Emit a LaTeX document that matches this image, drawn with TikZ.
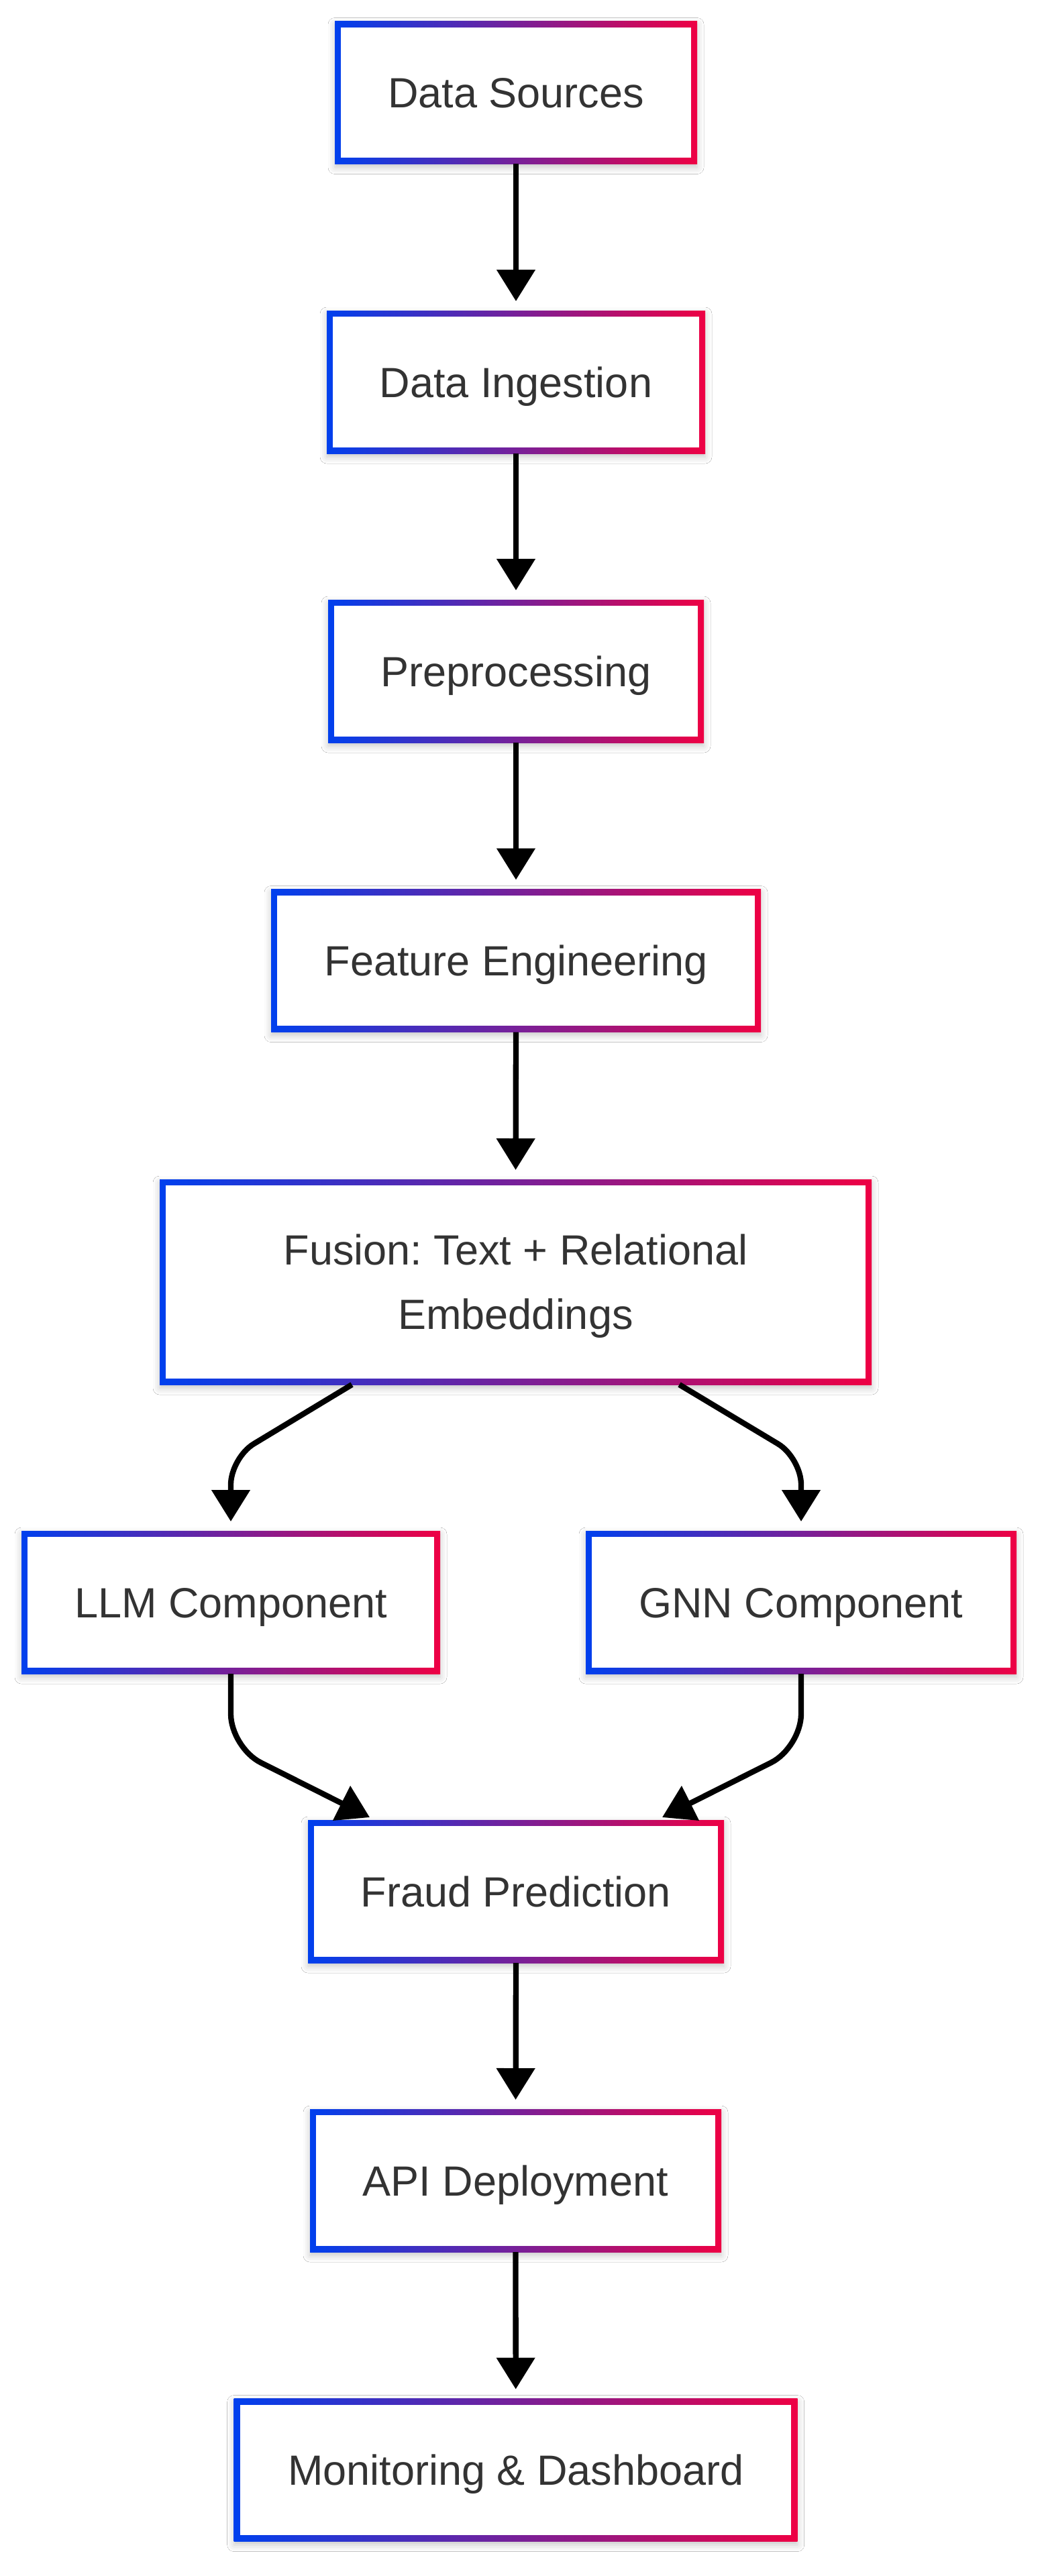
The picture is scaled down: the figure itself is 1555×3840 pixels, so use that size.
\documentclass[tikz,border=0pt]{standalone}
\usepackage{fontspec}
\setmainfont{Liberation Sans}
\usetikzlibrary{arrows.meta,calc,backgrounds,shadows.blur}
\definecolor{gblue}{HTML}{0040EE}
\definecolor{gred}{HTML}{EE0044}
\definecolor{txt}{HTML}{333333}
\frenchspacing
\begin{document}
\begin{tikzpicture}[x=1pt,y=-1pt,
  box/.style={inner sep=0pt, outer sep=0pt, align=center, text=txt,
    font=\fontsize{63}{96}\selectfont, minimum height=213pt,
    text height=45pt, text depth=0pt},
  link/.style={line width=8.3pt, -{Triangle[length=47pt,width=56pt]}, shorten >=14pt},
  curvelink/.style={line width=8.3pt, -{Triangle[length=47pt,width=56pt]}},
]
\useasboundingbox (0,0) rectangle (1555,3840);

% nodes
\node[box, minimum width=540pt] (ds)  at (769,138)    {Data Sources};
\node[box, minimum width=564pt] (di)  at (769,569.5)  {Data Ingestion};
\node[box, minimum width=560pt] (pp)  at (769,1000.5) {Preprocessing};
\node[box, minimum width=730pt] (fe)  at (769,1432)   {Feature Engineering};
\node[box, minimum width=1061pt, minimum height=306pt, text height=141pt, text depth=0pt] (fu) at (768.5,1911) {Fusion:\ Text + Relational\\Embeddings};
\node[box, minimum width=624pt] (llm) at (344,2388.5)  {LLM Component};
\node[box, minimum width=642pt] (gnn) at (1194,2388.5) {GNN Component};
\node[box, minimum width=620pt] (fr)  at (769,2819.5) {Fraud Prediction};
\node[box, minimum width=613pt] (api) at (768.5,3250.5) {API Deployment};
\node[box, minimum width=840pt] (mon) at (768.7,3682) {Monitoring \& Dashboard};

% gradient borders and shadows
\begin{scope}[on background layer]
  \fill[white] (0,0) rectangle (1555,3840);
  \foreach \n in {ds,di,pp,fe,fu,llm,gnn,fr,api,mon}{
    \path[fill=white, blur shadow={shadow xshift=0pt, shadow yshift=-5pt,
        shadow blur radius=10pt, shadow opacity=22}]
      (\n.south west) rectangle (\n.north east);
    \shade[left color=gblue, right color=gred]
      (\n.south west) rectangle (\n.north east);
    \fill[white] ([xshift=9.3pt,yshift=9.3pt]\n.south west)
      rectangle ([xshift=-9.3pt,yshift=-9.3pt]\n.north east);
  }
\end{scope}

% connectors
\draw[link] (ds.south) -- (di.north);
\draw[link] (di.south) -- (pp.north);
\draw[link] (pp.south) -- (fe.north);
\draw[link] (fe.south) -- (fu.north);
\draw[link, rounded corners=40pt] ($(fu.south)+(-244,0)$) -- (llm.north |- 0,2173) -- (llm.north);
\draw[link, rounded corners=40pt] ($(fu.south)+(244,0)$) -- (gnn.north |- 0,2173) -- (gnn.north);
\draw[curvelink, rounded corners=50pt] (llm.south) -- (llm.south |- 0,2605) -- ($(fr.north)+(-218,-4)$);
\draw[curvelink, rounded corners=50pt] (gnn.south) -- (gnn.south |- 0,2605) -- ($(fr.north)+(218,-4)$);
\draw[link] (fr.south) -- (api.north);
\draw[link] (api.south) -- (mon.north);
\end{tikzpicture}
\end{document}
